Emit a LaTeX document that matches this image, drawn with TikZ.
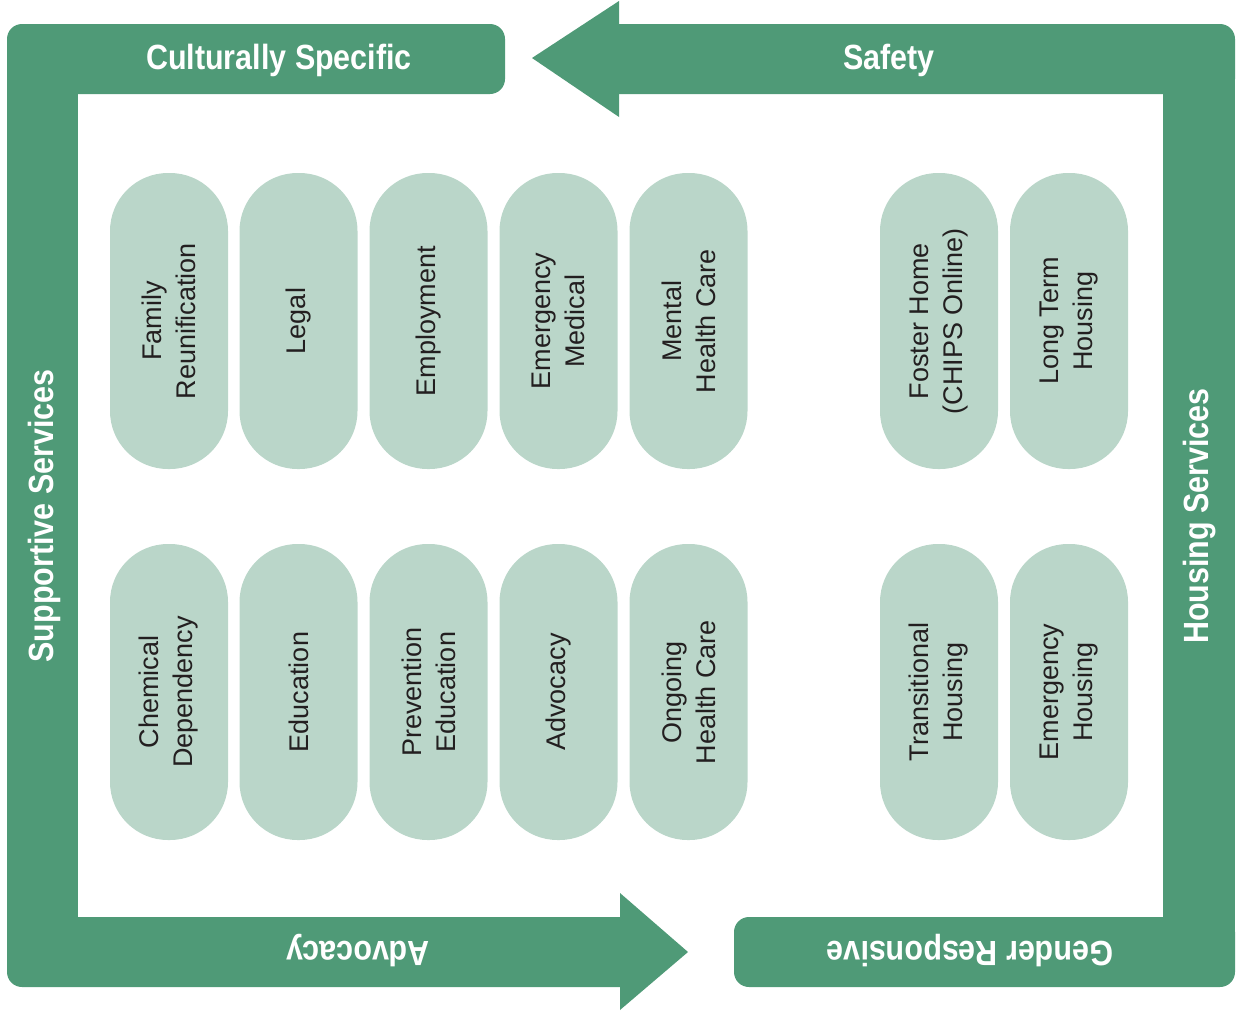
\documentclass[tikz,border=0pt]{standalone}
\usepackage{fontspec}
\usepackage{graphicx}
\setmainfont{Liberation Sans}
\definecolor{bandgreen}{HTML}{4F9A77}
\definecolor{pillgreen}{HTML}{BAD6C9}
\definecolor{pilltext}{HTML}{231F20}
\tikzset{
  bandfill/.style={fill=bandgreen, draw=none},
  pill/.style={fill=pillgreen, draw=none, rounded corners=58pt,
    minimum width=296pt, minimum height=118pt, inner sep=0pt,
    align=center, text=pilltext, rotate=90,
    font=\fontsize{27}{34}\selectfont},
  head/.style={text=white, inner sep=0pt, anchor=base,
    font=\fontsize{35}{40}\selectfont\bfseries}
}
\newcommand{\hd}[1]{\scalebox{0.87}[1]{#1}}
\begin{document}
\begin{tikzpicture}[x=1pt,y=-1pt]
\useasboundingbox (0,0) rectangle (1245,1015);
% left band: Culturally Specific -> Supportive Services -> Advocacy arrow
\fill[bandfill, rounded corners=15pt] (7,24) rectangle (505,94);
\fill[bandfill] (7,50) rectangle (78,960);
\fill[bandfill, rounded corners=15pt] (7,917) rectangle (650,987);
\fill[bandfill] (620,893) -- (688,952) -- (620,1010) -- cycle;
% right band: Safety arrow -> Housing Services -> Gender Responsive
\fill[bandfill] (532,58) -- (619,1) -- (619,117) -- cycle;
\fill[bandfill, rounded corners=15pt] (600,24) rectangle (1235,94);
\fill[bandfill] (1163,60) rectangle (1235,950);
\fill[bandfill, rounded corners=15pt] (734,917) rectangle (1235,987);
% band labels
\node[head] (lcs) at (279,69) {\hd{Culturally Specific}};
\node[head] (lsa) at (889,69) {\hd{Safety}};
\node[head, rotate=180] (lad) at (358,941) {\hd{Advocacy}};
\node[head, rotate=180] (lgr) at (970,941) {\hd{Gender Responsive}};
\node[head, rotate=90] (lss) at (53,516) {\hd{Supportive Services}};
\node[head, rotate=90] (lhs) at (1208,516) {\hd{Housing Services}};
% top row pills
\node[pill] (p1) at (169,321) {Family\\Reunification};
\node[pill] (p2) at (298.5,321) {Legal};
\node[pill] (p3) at (428.5,321) {Employment};
\node[pill] (p4) at (558.5,321) {Emergency\\Medical};
\node[pill] (p5) at (688.5,321) {Mental\\Health Care};
\node[pill] (p6) at (939,321) {Foster Home\\(CHIPS Online)};
\node[pill] (p7) at (1069,321) {Long Term\\Housing};
% bottom row pills
\node[pill] (q1) at (169,692) {Chemical\\Dependency};
\node[pill] (q2) at (298.5,692) {Education};
\node[pill] (q3) at (428.5,692) {Prevention\\Education};
\node[pill] (q4) at (558.5,692) {Advocacy};
\node[pill] (q5) at (688.5,692) {Ongoing\\Health Care};
\node[pill] (q6) at (939,692) {Transitional\\Housing};
\node[pill] (q7) at (1069,692) {Emergency\\Housing};
\end{tikzpicture}
\end{document}
